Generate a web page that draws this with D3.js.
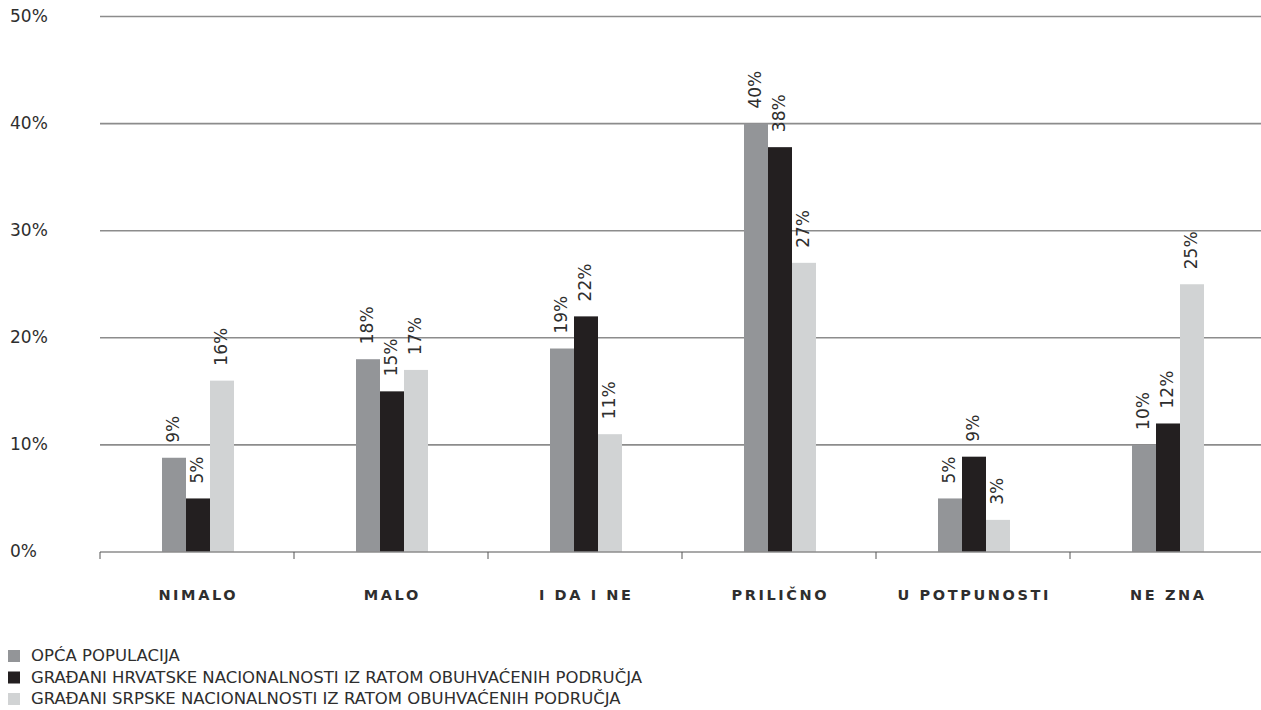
<!DOCTYPE html>
<html>
<head>
<meta charset="utf-8">
<script src="https://cdn.jsdelivr.net/npm/d3@7"></script>
<style>
  html, body { margin: 0; padding: 0; background: #fff; }
  svg { display: block; }
  text { font-family: "DejaVu Sans", sans-serif; fill: #2e2e2e; }
</style>
</head>
<body>
<script>
// ---- data ----
const categories = ["NIMALO", "MALO", "I DA I NE", "PRILIČNO", "U POTPUNOSTI", "NE ZNA"];
const seriesNames = [
  "OPĆA POPULACIJA",
  "GRAĐANI HRVATSKE NACIONALNOSTI IZ RATOM OBUHVAĆENIH PODRUČJA",
  "GRAĐANI SRPSKE NACIONALNOSTI IZ RATOM OBUHVAĆENIH PODRUČJA"
];
const opcaPopulacija = [8.8, 18, 19, 40, 5, 10];
const hrvatske = [5, 15, 22, 37.8, 8.9, 12];
const srpske = [16, 17, 11, 27, 3, 25];
const yTicks = [0, 10, 20, 30, 40, 50];
const seriesColors = ["#939598", "#231f20", "#d1d3d4"];

const seriesValues = [opcaPopulacija, hrvatske, srpske];

// ---- layout ----
const W = 1261, H = 710;
const svg = d3.select("body").append("svg").attr("width", W).attr("height", H);

const y = d3.scaleLinear().domain([0, 50]).range([552, 16.5]);
const x = d3.scaleBand().domain(categories).range([100, 1264]).padding(0);
const inner = d3.scaleBand().domain(d3.range(seriesNames.length))
  .range([-35, 37]).padding(0);

// gridlines
svg.append("g").selectAll("line").data(yTicks.filter(d => d > 0)).join("line")
  .attr("x1", 100).attr("x2", W)
  .attr("y1", d => y(d)).attr("y2", d => y(d))
  .attr("stroke", "#8c8c8c").attr("stroke-width", 1.6);

// y tick labels
svg.append("g").selectAll("text").data(yTicks).join("text")
  .attr("x", 10).attr("y", d => y(d))
  .attr("dominant-baseline", "middle")
  .style("font-size", "17px")
  .text(d => d + "%");

// bars
const groups = svg.append("g").selectAll("g").data(categories).join("g")
  .attr("transform", c => `translate(${x(c) + x.bandwidth() / 2},0)`);

groups.selectAll("rect").data((c, ci) => seriesValues.map((s, si) => ({si, v: s[ci]}))).join("rect")
  .attr("x", d => inner(d.si))
  .attr("width", inner.bandwidth())
  .attr("y", d => y(d.v))
  .attr("height", d => y(0) - y(d.v))
  .attr("fill", d => seriesColors[d.si]);

groups.selectAll("text").data((c, ci) => seriesValues.map((s, si) => ({si, v: s[ci]}))).join("text")
  .attr("transform", d => `translate(${inner(d.si) + inner.bandwidth() / 2 + 5},${y(d.v) - 15}) rotate(-90)`)
  .style("font-size", "17px")
  .text(d => Math.round(d.v) + "%");

// x axis
const axisG = svg.append("g").attr("transform", `translate(0,${y(0)})`);
axisG.append("line").attr("x1", 100).attr("x2", W).attr("y1", 0).attr("y2", 0)
  .attr("stroke", "#8c8c8c").attr("stroke-width", 1.6);
axisG.selectAll("line.tick").data(categories).join("line")
  .attr("class", "tick")
  .attr("x1", c => x(c)).attr("x2", c => x(c))
  .attr("y1", 0).attr("y2", 7)
  .attr("stroke", "#555").attr("stroke-width", 1);

// category labels
svg.append("g").selectAll("text").data(categories).join("text")
  .attr("x", c => x(c) + x.bandwidth() / 2 + 1.3)
  .attr("y", 596)
  .attr("text-anchor", "middle")
  .attr("dominant-baseline", "middle")
  .style("font-size", "14.5px").style("font-weight", "bold")
  .style("letter-spacing", "2.6px")
  .text(c => c);

// legend
const legend = svg.append("g").selectAll("g").data(seriesNames).join("g")
  .attr("transform", (d, i) => `translate(8,${656 + i * 21.5})`);
legend.append("rect").attr("x", 0).attr("y", -6).attr("width", 12).attr("height", 12)
  .attr("fill", (d, i) => seriesColors[i]);
legend.append("text").attr("x", 23).attr("y", 0.5)
  .attr("dominant-baseline", "middle")
  .style("font-size", "16.5px")
  .text(d => d);
</script>
</body>
</html>
